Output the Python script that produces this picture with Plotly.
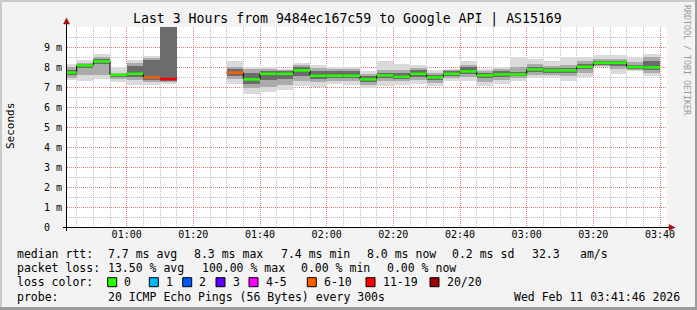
import plotly.graph_objects as go

# ---------------- data ----------------
step_start = [
    "2026-02-11 00:40", "2026-02-11 00:45", "2026-02-11 00:50", "2026-02-11 00:55",
    "2026-02-11 01:00", "2026-02-11 01:05", "2026-02-11 01:10", "2026-02-11 01:15",
    "2026-02-11 01:20", "2026-02-11 01:25", "2026-02-11 01:30", "2026-02-11 01:35",
    "2026-02-11 01:40", "2026-02-11 01:45", "2026-02-11 01:50", "2026-02-11 01:55",
    "2026-02-11 02:00", "2026-02-11 02:05", "2026-02-11 02:10", "2026-02-11 02:15",
    "2026-02-11 02:20", "2026-02-11 02:25", "2026-02-11 02:30", "2026-02-11 02:35",
    "2026-02-11 02:40", "2026-02-11 02:45", "2026-02-11 02:50", "2026-02-11 02:55",
    "2026-02-11 03:00", "2026-02-11 03:05", "2026-02-11 03:10", "2026-02-11 03:15",
    "2026-02-11 03:20", "2026-02-11 03:25", "2026-02-11 03:30", "2026-02-11 03:35",
]
step_end = step_start[1:] + ["2026-02-11 03:40"]

median_ms = [7.72, 8.08, 8.28, 7.60, 7.66, 7.48, 7.40, None, None, None,
             7.72, 7.38, 7.66, 7.66, 7.83, 7.56, 7.56, 7.56, 7.38, 7.58,
             7.51, 7.66, 7.48, 7.66, 7.78, 7.58, 7.63, 7.63, 7.88, 7.83,
             7.83, 8.01, 8.21, 8.21, 8.00, 7.98]
# index into loss_colors (0 = no loss, 5 = 6-10, 6 = 11-19), None = no reply
loss_class = [0, 0, 0, 0, 0, 5, 6, None, None, None,
              5, 0, 0, 0, 0, 0, 0, 0, 0, 0,
              0, 0, 0, 0, 0, 0, 0, 0, 0, 0,
              0, 0, 0, 0, 0, 0]
smoke_min = [7.33, 7.32, 7.42, 7.25, 7.12, 7.12, 7.17, None, None, None,
             7.15, 6.66, 6.75, 6.86, 7.03, 7.00, 7.15, 7.12, 6.93, 7.07,
             7.12, 7.17, 7.03, 7.32, 7.32, 7.03, 7.17, 7.28, 7.45, 7.48,
             7.32, 7.50, 7.98, 7.65, 7.78, 7.53]
smoke_lo = [7.45, 7.62, 7.60, 7.40, 7.35, 7.25, 7.25, None, None, None,
            7.40, 6.95, 7.00, 7.10, 7.30, 7.25, 7.30, 7.30, 7.10, 7.30,
            7.30, 7.35, 7.20, 7.45, 7.50, 7.25, 7.35, 7.45, 7.60, 7.60,
            7.55, 7.70, 8.05, 7.90, 7.85, 7.70]
core_lo = [7.58, 7.95, 8.15, 7.50, 7.50, 7.35, 7.30, None, None, None,
           7.55, 7.15, 7.35, 7.40, 7.55, 7.40, 7.45, 7.45, 7.25, 7.45,
           7.42, 7.50, 7.35, 7.55, 7.65, 7.45, 7.50, 7.55, 7.75, 7.72,
           7.70, 7.90, 8.12, 8.05, 7.92, 7.85]
core_hi = [7.85, 8.15, 8.40, 7.66, 8.05, 8.35, 10.5, None, None, None,
           7.90, 7.70, 7.80, 7.78, 7.98, 7.80, 7.80, 7.80, 7.55, 7.72,
           7.70, 7.85, 7.62, 7.78, 7.98, 7.72, 7.78, 7.75, 8.00, 7.95,
           7.95, 8.15, 8.30, 8.32, 8.10, 8.30]
smoke_hi = [7.98, 8.22, 8.50, 7.72, 8.20, 8.45, 10.5, None, None, None,
            8.00, 7.90, 7.90, 7.85, 8.10, 7.95, 7.92, 7.92, 7.65, 7.85,
            7.85, 7.95, 7.72, 7.85, 8.10, 7.82, 7.88, 8.00, 8.15, 8.05,
            8.10, 8.30, 8.42, 8.42, 8.25, 8.50]
smoke_max = [8.17, 8.37, 8.66, 8.00, 8.37, 8.53, 10.5, None, None, None,
             8.30, 8.00, 8.00, 7.92, 8.20, 8.08, 8.00, 8.00, 7.78, 8.28,
             8.15, 8.08, 7.86, 7.92, 8.32, 7.92, 8.00, 8.51, 8.41, 8.32,
             8.51, 8.51, 8.61, 8.58, 8.45, 8.66]

ytick_vals = [0, 1, 2, 3, 4, 5, 6, 7, 8, 9]
ytick_text = ["0\u00a0\u00a0", "1 m", "2 m", "3 m", "4 m", "5 m", "6 m", "7 m", "8 m", "9 m"]
xtick_vals = ["2026-02-11 01:00", "2026-02-11 01:20", "2026-02-11 01:40", "2026-02-11 02:00",
              "2026-02-11 02:20", "2026-02-11 02:40", "2026-02-11 03:00", "2026-02-11 03:20",
              "2026-02-11 03:40"]
xtick_text = ["01:00", "01:20", "01:40", "02:00", "02:20", "02:40", "03:00", "03:20", "03:40"]

loss_labels = ["0", "1", "2", "3", "4-5", "6-10", "11-19", "20/20"]
loss_colors = ["#26ff00", "#00b8ff", "#0059ff", "#5e00ff", "#ff00ff", "#ff5e00", "#ff0000", "#a10000"]

title_text = "Last 3 Hours from 9484ec167c59 to Google API | AS15169"
rtt_stats = ["7.7 ms avg", "8.3 ms max", "7.4 ms min", "8.0 ms now", "0.2 ms sd", "32.3", "am/s"]
loss_stats = ["13.50 % avg", "100.00 % max", "0.00 % min", "0.00 % now"]
probe_text = "20 ICMP Echo Pings (56 Bytes) every 300s"
stamp_text = "Wed Feb 11 03:41:46 2026"

# ---------------- figure ----------------
W, H = 697, 310
L, R, T, B = 67, 30, 27, 83
PW, PH = W - L - R, H - T - B
MONO = "DejaVu Sans Mono"


def px(x):
    return (x - L) / PW


def py(y):
    return (H - B - y) / PH


fig = go.Figure()

STEP_MS = 300000


def band(lo, hi, color):
    xs, base, hgt = [], [], []
    for s, a, b in zip(step_start, lo, hi):
        if a is None or b is None:
            continue
        xs.append(s)
        base.append(a)
        hgt.append(b - a)
    fig.add_trace(go.Bar(x=xs, y=hgt, base=base, width=STEP_MS, offset=0,
                         marker=dict(color=color, line=dict(width=0)),
                         hoverinfo="skip", showlegend=False))


band(smoke_min, smoke_max, "#dadada")
band(smoke_lo, smoke_hi, "#ababab")
band(core_lo, core_hi, "#6c6c6c")

# black step line connecting medians
bx, by = [], []
prev = None
for s, e, m in zip(step_start, step_end, median_ms):
    if m is None:
        if prev is not None:
            bx.append(None)
            by.append(None)
        prev = None
        continue
    bx.append(s)
    by.append(m)
    bx.append(e)
    by.append(m)
    prev = m
fig.add_trace(go.Scatter(x=bx, y=by, mode="lines", line=dict(color="#000000", width=1),
                         hoverinfo="skip", showlegend=False, connectgaps=False))

# coloured median segments by loss class
for ci, col in enumerate(loss_colors):
    sx, sy = [], []
    for s, e, m, lc in zip(step_start, step_end, median_ms, loss_class):
        if m is None or lc != ci:
            continue
        sx += [s, e, None]
        sy += [m, m, None]
    if sx:
        fig.add_trace(go.Scatter(x=sx, y=sy, mode="lines", line=dict(color=col, width=2.5),
                                 hoverinfo="skip", showlegend=False, connectgaps=False))

MAJ = "rgba(235,110,110,0.75)"
MIN = "rgba(170,170,170,0.75)"
fig.update_xaxes(type="date", range=["2026-02-11 00:42:06", "2026-02-11 03:42:06"],
                 tickmode="array", tickvals=xtick_vals, ticktext=xtick_text,
                 tickfont=dict(family=MONO, size=10, color="#000"),
                 showgrid=True, gridcolor=MAJ, griddash="1px,1px", gridwidth=1,
                 minor=dict(tickmode="linear", tick0="2026-02-11 00:00", dtick=STEP_MS,
                            showgrid=True, gridcolor=MIN, griddash="1px,1px", gridwidth=1),
                 zeroline=False, showline=False, ticks="", fixedrange=True)
fig.update_yaxes(range=[0, 10], tickmode="array", tickvals=ytick_vals, ticktext=ytick_text,
                 tickfont=dict(family=MONO, size=10, color="#000"),
                 showgrid=True, gridcolor=MAJ, griddash="1px,1px", gridwidth=1,
                 minor=dict(tickmode="linear", tick0=0, dtick=0.5,
                            showgrid=True, gridcolor=MIN, griddash="1px,1px", gridwidth=1),
                 zeroline=False, showline=False, ticks="", ticklabelstandoff=4, fixedrange=True)

shapes = []
# frame (3D border)
shapes.append(dict(type="rect", xref="paper", yref="paper", x0=px(0), x1=px(W), y0=py(0), y1=py(2),
                   fillcolor="#cbcbcb", line=dict(width=0), layer="below"))
shapes.append(dict(type="rect", xref="paper", yref="paper", x0=px(0), x1=px(2), y0=py(0), y1=py(H),
                   fillcolor="#cbcbcb", line=dict(width=0), layer="below"))
shapes.append(dict(type="rect", xref="paper", yref="paper", x0=px(0), x1=px(W), y0=py(H - 3), y1=py(H),
                   fillcolor="#9c9c9c", line=dict(width=0), layer="below"))
shapes.append(dict(type="rect", xref="paper", yref="paper", x0=px(W - 2), x1=px(W), y0=py(0), y1=py(H),
                   fillcolor="#9c9c9c", line=dict(width=0), layer="below"))
# axes lines
shapes.append(dict(type="line", xref="paper", yref="paper", x0=px(63), x1=px(671), y0=py(227.5), y1=py(227.5),
                   line=dict(color="#000", width=1)))
shapes.append(dict(type="line", xref="paper", yref="paper", x0=px(66.5), x1=px(66.5), y0=py(231), y1=py(22),
                   line=dict(color="#000", width=1)))
# arrow heads
shapes.append(dict(type="path", xref="paper", yref="paper",
                   path=f"M {px(669)} {py(224.5)} L {px(675)} {py(227.5)} L {px(669)} {py(230.5)} Z",
                   fillcolor="#a01010", line=dict(color="#a01010", width=0.5)))
shapes.append(dict(type="path", xref="paper", yref="paper",
                   path=f"M {px(63.5)} {py(24)} L {px(66.5)} {py(18)} L {px(69.5)} {py(24)} Z",
                   fillcolor="#a01010", line=dict(color="#a01010", width=0.5)))

ann = []
FS = 11.5


def text(x, y, s, size=FS, color="#000", anchor="left", angle=0):
    ann.append(dict(x=px(x), y=py(y), xref="paper", yref="paper", text=s, showarrow=False,
                    xanchor=anchor, yanchor="middle", textangle=angle, borderpad=0,
                    font=dict(family=MONO, size=size, color=color)))


text(347, 19, title_text, size=13.2, anchor="center")
text(10, 126, "Seconds", size=11, anchor="center", angle=-90)
text(687, 60, "RRDTOOL / TOBI OETIKER", size=8.3, color="#9a9a9a", anchor="center", angle=90)

row1, row2, row3, row4 = 254, 268, 282, 296.5
text(16, row1, "median rtt:")
for xpos, s in zip([107, 193, 279.5, 366, 451, 531, 579], rtt_stats):
    text(xpos, row1, s)
text(16, row2, "packet loss:")
for xpos, s in zip([107, 200.5, 300, 386], loss_stats):
    text(xpos, row2, s)
text(16, row3, "loss color:")
box_x = [107.7, 149.3, 182.7, 216, 249, 307.3, 366, 430]
for bxp, lab, col in zip(box_x, loss_labels, loss_colors):
    shapes.append(dict(type="rect", xref="paper", yref="paper", x0=px(bxp), x1=px(bxp + 9),
                       y0=py(277.7), y1=py(286.7), fillcolor=col, line=dict(color="#000", width=1)))
    text(bxp + 15.6, row3, lab)
text(16, row4, "probe:")
text(107, row4, probe_text)
text(513, row4, stamp_text)

fig.update_layout(width=W, height=H, margin=dict(l=L, r=R, t=T, b=B, pad=0),
                  paper_bgcolor="#f3f3f3", plot_bgcolor="#ffffff",
                  barmode="overlay", bargap=0, showlegend=False,
                  shapes=shapes, annotations=ann)

fig.write_html("out.html")
